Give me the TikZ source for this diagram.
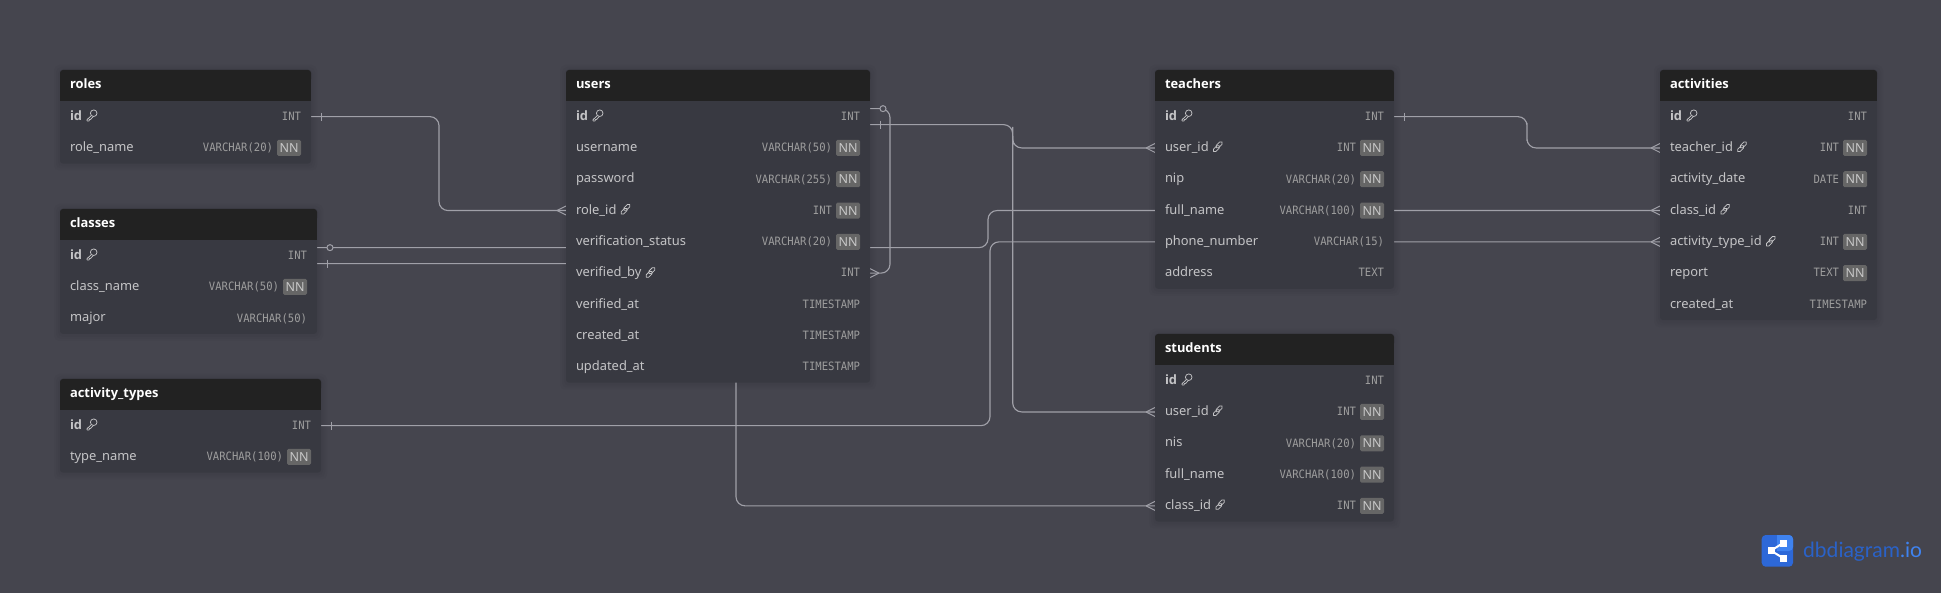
\documentclass[tikz,border=0pt]{standalone}
\usepackage{fontspec}
\setmainfont{Noto Sans}[BoldFont={Open Sans Bold}]
\newfontfamily\typefont[FakeStretch=0.92]{DejaVu Sans Mono}
\newfontfamily\logofont{Lato}
\usetikzlibrary{backgrounds}
\pgfdeclarelayer{bgzero}\pgfdeclarelayer{shadowlayer}\pgfdeclarelayer{lines}
\pgfsetlayers{bgzero,shadowlayer,lines,main}
\definecolor{canvas}{HTML}{45454E}
\definecolor{body}{HTML}{383941}
\definecolor{headc}{HTML}{222222}
\definecolor{fieldc}{HTML}{C4C4C6}
\definecolor{typec}{HTML}{9E9E9E}
\definecolor{nnbg}{HTML}{666666}
\definecolor{nntext}{HTML}{C8C8C8}
\definecolor{linec}{HTML}{A0A0A8}
\definecolor{logoa}{HTML}{2D68D8}
\definecolor{logob}{HTML}{3F83F0}
\definecolor{logot}{HTML}{2A62C8}
\catcode`\_=12
\tikzset{
  x=1pt,y=-1pt,
  conn/.style={draw=linec,line width=1.15pt,rounded corners=9pt},
  markc/.style={draw=linec,line width=1pt},
  ringc/.style={draw=linec,line width=1pt,fill=canvas},
  tablebody/.style={fill=body,rounded corners=3pt,inner sep=0pt,outer sep=0pt},
  rowbox/.style={inner sep=0pt,outer sep=0pt},
  fieldtext/.style={inner sep=0pt,outer sep=0pt,text=fieldc,anchor=base west,font=\fontsize{12.9}{15}\selectfont},
  typetext/.style={inner sep=0pt,outer sep=0pt,text=typec,anchor=base east,font=\typefont\fontsize{11.5}{13}\selectfont},
  titletext/.style={inner sep=0pt,outer sep=0pt,text=white,anchor=base west,font=\bfseries\fontsize{12.9}{15}\selectfont},
  nnbadge/.style={fill=nnbg,rounded corners=1.5pt,inner sep=0pt,outer sep=0pt,minimum width=24pt,minimum height=16pt,text=nntext,font=\fontsize{12.5}{14}\selectfont},
  iconline/.style={draw=fieldc,line width=.75pt},
  pics/ick/.style={code={
    \draw[iconline] (7.6,-1.8) circle (3.3);
    \draw[iconline,line join=round] (5.2,.6) -- (1,4.6) -- (1,5.9) -- (3,5.9) -- (3.3,4.6) -- (4.5,4.4) -- (7.2,1.5);
  }},
  pics/icl/.style={code={
    \draw[iconline,rounded corners=1.7pt,rotate around={45:(6.4,-2.4)}] (2.4,-4.1) rectangle (10.4,-.7);
    \draw[iconline,rounded corners=1.7pt,rotate around={45:(3.6,1.4)}] (-.4,-.3) rectangle (7.6,3.1);
  }},
}
\newcommand{\tbl}[6]{%
  \def\tn{#1}\def\xa{#2}\def\xb{#3}\def\yt{#4}%
  \foreach \f/\ic/\ty/\nn [count=\i] in {#6}{\xdef\nrowsg{\i}}%
  \pgfmathsetmacro{\yb}{#4+31+\nrowsg*31.3}%
  \begin{pgfonlayer}{shadowlayer}
    \foreach \e in {2,4,6}{
      \fill[black,opacity=.018,rounded corners=5pt] ({#2-\e},{#4-\e+1}) rectangle ({#3+\e},{\yb+\e+1});
    }
  \end{pgfonlayer}
  \node[tablebody,minimum width={(#3-#2)*1pt},minimum height={(\yb-#4)*1pt}] (#1) at ({(#2+#3)/2},{(#4+\yb)/2}) {};
  \fill[headc,rounded corners=3pt] (#2,#4) rectangle (#3,{#4+12});
  \fill[headc] (#2,{#4+6}) rectangle (#3,{#4+31});
  \node[titletext] (#1-title) at ({#2+10},{#4+18.5}) {#5};
  \foreach \f/\ic/\ty/\nn [count=\i] in {#6}{
    \pgfmathsetmacro{\cy}{#4+31+(\i-.5)*31.3}
    \node[rowbox,minimum width={(#3-#2)*1pt},minimum height=31.3pt] (\tn-\f) at ({(#2+#3)/2},\cy) {};
    \node[fieldtext] (\tn-\f-name) at ({#2+10},{\cy+3.6}) {\ifnum\i=1 \bfseries\fi\f};
    \if k\ic \pic at ([xshift=4pt,yshift=.4pt]\tn-\f-name.east) {ick};\fi
    \if l\ic \pic at ([xshift=4pt,yshift=.4pt]\tn-\f-name.east) {icl};\fi
    \if Y\nn
      \node[nnbadge] (\tn-\f-nn) at ({#3-22},\cy) {NN};
      \node[typetext] (\tn-\f-type) at ({#3-38},{\cy+3.8}) {\ty};
    \else
      \node[typetext] (\tn-\f-type) at ({#3-10},{\cy+3.8}) {\ty};
    \fi
  }%
}
\newcommand{\crowleft}[1]{\draw[markc] ([xshift=-9pt]#1.west) -- ([yshift=4.5pt]#1.west) ([xshift=-9pt]#1.west) -- ([yshift=-4.5pt]#1.west);}
\begin{document}
\begin{tikzpicture}
\useasboundingbox (0,0) rectangle (1941,593);
\begin{pgfonlayer}{bgzero}
  \fill[canvas] (0,0) rectangle (1941,593);
\end{pgfonlayer}

\tbl{roles}{60}{311}{70}{roles}{id/k/INT/N,role_name/n/VARCHAR(20)/Y}
\tbl{classes}{60}{317}{209}{classes}{id/k/INT/N,class_name/n/VARCHAR(50)/Y,major/n/VARCHAR(50)/N}
\tbl{activity_types}{60}{321}{379}{activity_types}{id/k/INT/N,type_name/n/VARCHAR(100)/Y}
\tbl{users}{566}{870}{70}{users}{id/k/INT/N,username/n/VARCHAR(50)/Y,password/n/VARCHAR(255)/Y,role_id/l/INT/Y,verification_status/n/VARCHAR(20)/Y,verified_by/l/INT/N,verified_at/n/TIMESTAMP/N,created_at/n/TIMESTAMP/N,updated_at/n/TIMESTAMP/N}
\tbl{teachers}{1155}{1394}{70}{teachers}{id/k/INT/N,user_id/l/INT/Y,nip/n/VARCHAR(20)/Y,full_name/n/VARCHAR(100)/Y,phone_number/n/VARCHAR(15)/N,address/n/TEXT/N}
\tbl{students}{1155}{1394}{334}{students}{id/k/INT/N,user_id/l/INT/Y,nis/n/VARCHAR(20)/Y,full_name/n/VARCHAR(100)/Y,class_id/l/INT/Y}
\tbl{activities}{1660}{1877}{70}{activities}{id/k/INT/N,teacher_id/l/INT/Y,activity_date/n/DATE/Y,class_id/l/INT/N,activity_type_id/l/INT/Y,report/n/TEXT/Y,created_at/n/TIMESTAMP/N}

% lanes
\coordinate (laneroles) at (439,160);
\coordinate (laneclass) at (988,230);
\coordinate (lanetype) at (990,330);
\coordinate (laneself) at (890,190);
\coordinate (laneuser) at (1012.7,136);
\coordinate (laneuserb) at (1012.7,270);
\coordinate (laneteach) at (1527,132);
\coordinate (lanestud) at (736,385);

\begin{pgfonlayer}{lines}
  \draw[conn] (roles-id.east) -| (laneroles) |- (users-role_id.west);
  \draw[conn] ([yshift=8pt]classes-id.east) -| (laneclass) |- (activities-class_id.west);
  \draw[conn] ([yshift=-8pt]classes-id.east) -| (lanestud) |- (students-class_id.west);
  \draw[conn] (activity_types-id.east) -| (lanetype) |- (activities-activity_type_id.west);
  \draw[conn] ([yshift=8pt]users-id.east) -| (laneself) |- (users-verified_by.east);
  \draw[conn] ([yshift=-8pt]users-id.east) -| (laneuser) |- (teachers-user_id.west);
  \draw[conn] (laneuser) -- (laneuserb) |- (students-user_id.west);
  \draw[conn] (teachers-id.east) -| (laneteach) |- (activities-teacher_id.west);

  % one-side ticks
  \draw[markc] ([xshift=10pt,yshift=4pt]roles-id.east) -- ([xshift=10pt,yshift=-4pt]roles-id.east);
  \draw[markc] ([xshift=10pt,yshift=-4pt]classes-id.east) -- ([xshift=10pt,yshift=-12pt]classes-id.east);
  \draw[markc] ([xshift=10pt,yshift=4pt]activity_types-id.east) -- ([xshift=10pt,yshift=-4pt]activity_types-id.east);
  \draw[markc] ([xshift=10pt,yshift=-4pt]users-id.east) -- ([xshift=10pt,yshift=-12pt]users-id.east);
  \draw[markc] ([xshift=10pt,yshift=4pt]teachers-id.east) -- ([xshift=10pt,yshift=-4pt]teachers-id.east);

  % zero-or-one rings
  \draw[ringc] ([xshift=13pt,yshift=8pt]classes-id.east) circle (3);
  \draw[ringc] ([xshift=13pt,yshift=8pt]users-id.east) circle (3);

  % crow's feet
  \crowleft{users-role_id}
  \crowleft{teachers-user_id}
  \crowleft{students-user_id}
  \crowleft{students-class_id}
  \crowleft{activities-teacher_id}
  \crowleft{activities-class_id}
  \crowleft{activities-activity_type_id}
  \draw[markc] ([xshift=9pt]users-verified_by.east) -- ([yshift=4.5pt]users-verified_by.east) ([xshift=9pt]users-verified_by.east) -- ([yshift=-4.5pt]users-verified_by.east);
\end{pgfonlayer}

% logo
\fill[logoa,rounded corners=4pt] (1761.7,535) rectangle (1793,566.7);
\fill[logob,rounded corners=4pt] (1777.3,535) rectangle (1793,551);
\fill[logob] (1777.3,540) rectangle (1788,551);
\fill[logob] (1782,535) -- (1782,540) -- (1777.3,540) -- (1777.3,535) -- cycle;
\draw[white,line width=2pt] (1771,550.7) -- (1783,543) (1771,550.7) -- (1783,558);
\fill[white] (1767.5,547.2) rectangle (1774.5,554.2);
\fill[white] (1779.5,539.5) rectangle (1786.5,546.5);
\fill[white] (1779.5,554.5) rectangle (1786.5,561.5);
\node[inner sep=0pt,anchor=base west,font=\logofont\fontsize{21}{24}\selectfont,text=logot] (logotext) at (1803,557) {dbdiagram\textcolor{logob}{.io}};
\end{tikzpicture}
\end{document}
